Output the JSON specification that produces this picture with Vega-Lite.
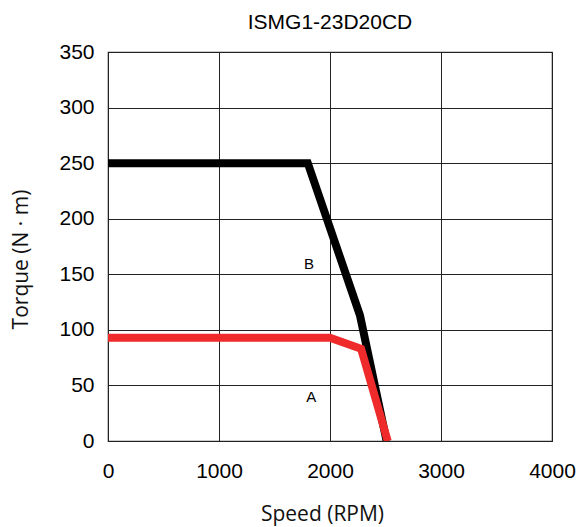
{
  "$schema": "https://vega.github.io/schema/vega-lite/v6.json",
  "width": 444,
  "height": 389,
  "autosize": {"type": "none"},
  "padding": {"left": 108, "top": 52, "right": 28, "bottom": 86},
  "background": "white",
  "config": {
    "view": {"stroke": "#333", "strokeWidth": 1.2},
    "font": "Liberation Sans",
    "axis": {"titleFontWeight": "normal"}
  },
  "title": {"text": "ISMG1-23D20CD", "fontSize": 21, "fontWeight": "normal", "font": "Liberation Sans", "color": "#000", "offset": 8},
  "datasets": {
    "curves": [
      {"speed": 0, "torque": 250, "curve": "B", "ord": 1},
      {"speed": 1800, "torque": 250, "curve": "B", "ord": 2},
      {"speed": 2270, "torque": 113, "curve": "B", "ord": 3},
      {"speed": 2510, "torque": 0, "curve": "B", "ord": 4},
      {"speed": 0, "torque": 93, "curve": "A", "ord": 1},
      {"speed": 2000, "torque": 93, "curve": "A", "ord": 2},
      {"speed": 2280, "torque": 83, "curve": "A", "ord": 3},
      {"speed": 2520, "torque": 0, "curve": "A", "ord": 4}
    ],
    "labels": [
      {"speed": 1810, "torque": 159, "label": "B"},
      {"speed": 1830, "torque": 40, "label": "A"}
    ]
  },
  "layer": [
    {
      "data": {"name": "curves"},
      "mark": {"type": "line", "strokeWidth": 8, "strokeJoin": "miter", "clip": true},
      "encoding": {
        "x": {"field": "speed", "type": "quantitative", "scale": {"domain": [0, 4000], "nice": false},
          "axis": {"values": [0, 1000, 2000, 3000, 4000], "format": "d", "title": "Speed (RPM)", "titleFont": "Open Sans", "titleFontSize": 21, "titleFontWeight": 400, "titleColor": "#111", "titlePadding": 22, "titleX": 214,
            "labelFontSize": 21, "labelColor": "#000", "labelPadding": 19, "ticks": false, "domain": false, "grid": true, "gridColor": "#222", "gridWidth": 1, "gridOpacity": 1, "labelFlush": false}},
        "y": {"field": "torque", "type": "quantitative", "scale": {"domain": [0, 350], "nice": false},
          "axis": {"values": [0, 50, 100, 150, 200, 250, 300, 350], "format": "d", "title": "Torque (N · m)", "titleFont": "Open Sans", "titleFontSize": 21, "titleFontWeight": 400, "titleColor": "#111", "titlePadding": 27, "titleY": 207,
            "labelFontSize": 21, "labelColor": "#000", "labelPadding": 14, "ticks": false, "domain": false, "grid": true, "gridColor": "#222", "gridWidth": 1, "gridOpacity": 1, "labelFlush": false}},
        "color": {"field": "curve", "type": "nominal", "scale": {"domain": ["A", "B"], "range": ["#ee2a2a", "#000000"]}, "legend": null},
        "order": {"field": "ord"},
        "detail": {"field": "curve"}
      }
    },
    {
      "data": {"name": "labels"},
      "mark": {"type": "text", "fontSize": 15, "color": "#000", "font": "Liberation Sans"},
      "encoding": {
        "x": {"field": "speed", "type": "quantitative"},
        "y": {"field": "torque", "type": "quantitative"},
        "text": {"field": "label"}
      }
    }
  ]
}
